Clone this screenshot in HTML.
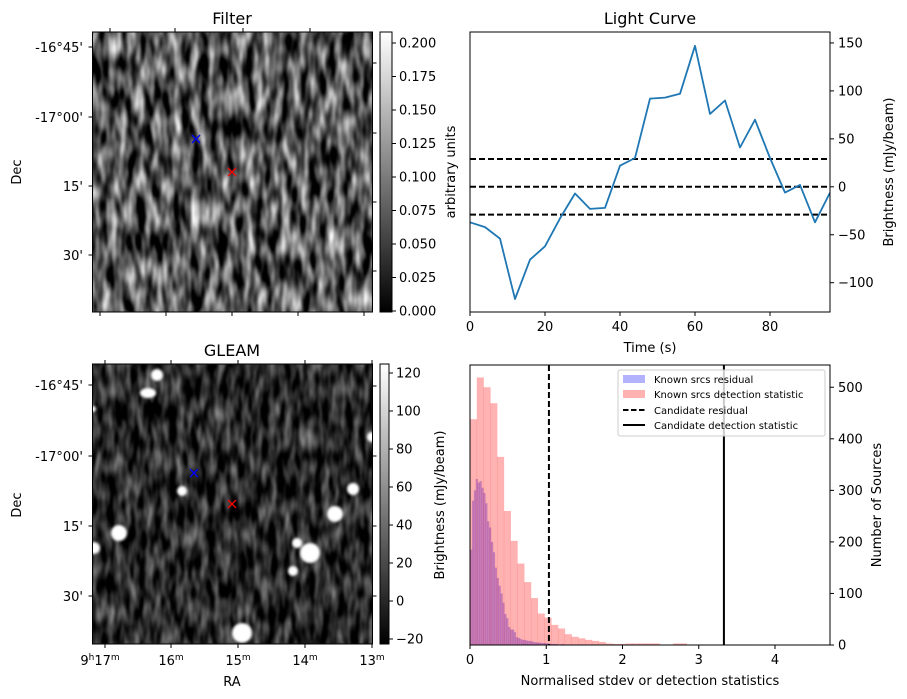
<!DOCTYPE html>
<html><head><meta charset="utf-8"><style>
html,body{margin:0;padding:0;background:#fff;}
svg{display:block;font-family:"DejaVu Sans","Liberation Sans",sans-serif;}
</style></head><body>
<svg id="fig" width="907" height="699" viewBox="0 0 907 699" xmlns="http://www.w3.org/2000/svg">
<defs>
<filter id="noiseF" x="0" y="0" width="100%" height="100%" color-interpolation-filters="sRGB">
<feTurbulence type="fractalNoise" baseFrequency="0.11 0.035" numOctaves="2" seed="3"/>
<feColorMatrix type="matrix" values="1.7 0 0 0 -0.52  1.7 0 0 0 -0.52  1.7 0 0 0 -0.52  0 0 0 0 1"/>
<feGaussianBlur stdDeviation="0.6"/>
</filter>
<filter id="noiseG" x="0" y="0" width="100%" height="100%" color-interpolation-filters="sRGB">
<feTurbulence type="fractalNoise" baseFrequency="0.13 0.04" numOctaves="2" seed="8"/>
<feColorMatrix type="matrix" values="1.0 0 0 0 -0.34  1.0 0 0 0 -0.34  1.0 0 0 0 -0.34  0 0 0 0 1"/>
<feGaussianBlur stdDeviation="0.8"/>
</filter>
<filter id="blur" color-interpolation-filters="sRGB"><feGaussianBlur stdDeviation="1.2"/></filter>
<linearGradient id="cbar" x1="0" y1="1" x2="0" y2="0"><stop offset="0" stop-color="#000"/><stop offset="1" stop-color="#fff"/></linearGradient>
<clipPath id="clipG"><rect x="92.5" y="364" width="280" height="280"/></clipPath>
<clipPath id="clipLC"><rect x="470" y="32" width="360" height="280"/></clipPath>
</defs>

<!-- Filter panel -->
<g>
<text x="232" y="24" font-size="16" text-anchor="middle">Filter</text>
<rect x="92.5" y="32" width="280" height="280" fill="#444"/>
<rect x="92.5" y="32" width="280" height="280" filter="url(#noiseF)"/>
<rect x="92.5" y="32" width="280" height="280" fill="none" stroke="#000" stroke-width="1"/>
<g stroke="#000" stroke-width="1">
<line x1="92.5" y1="47" x2="88.5" y2="47"/><line x1="92.5" y1="117" x2="88.5" y2="117"/><line x1="92.5" y1="186" x2="88.5" y2="186"/><line x1="92.5" y1="255" x2="88.5" y2="255"/>
<line x1="372.5" y1="63" x2="376.5" y2="63"/><line x1="372.5" y1="133" x2="376.5" y2="133"/><line x1="372.5" y1="202" x2="376.5" y2="202"/><line x1="372.5" y1="271" x2="376.5" y2="271"/>
<line x1="110" y1="32" x2="110" y2="28"/><line x1="175" y1="32" x2="175" y2="28"/><line x1="243" y1="32" x2="243" y2="28"/><line x1="310" y1="32" x2="310" y2="28"/>
<line x1="100" y1="312" x2="100" y2="316"/><line x1="166" y1="312" x2="166" y2="316"/><line x1="232" y1="312" x2="232" y2="316"/><line x1="298" y1="312" x2="298" y2="316"/><line x1="364" y1="312" x2="364" y2="316"/>
</g>
<g font-size="13" text-anchor="end">
<text x="83" y="52">-16°45'</text><text x="83" y="122">-17°00'</text><text x="83" y="191">15'</text><text x="83" y="260">30'</text>
</g>
<text x="21" y="172" font-size="13" text-anchor="middle" transform="rotate(-90 21 172)">Dec</text>
<g stroke-width="1.3">
<path d="M192,135 l8,8 M200,135 l-8,8" stroke="#00f"/>
<path d="M228,168 l8,8 M236,168 l-8,8" stroke="#f00"/>
</g>
<rect x="380" y="32" width="12" height="280" fill="url(#cbar)" stroke="#000" stroke-width="1"/>
<g id="cbF" font-size="13"></g>
<text x="455" y="172" font-size="13" text-anchor="middle" transform="rotate(-90 455 172)">arbitrary units</text>
</g>

<!-- GLEAM panel -->
<g>
<text x="232" y="356" font-size="16" text-anchor="middle">GLEAM</text>
<rect x="92.5" y="364" width="280" height="280" fill="#333"/>
<rect x="92.5" y="364" width="280" height="280" filter="url(#noiseG)"/>
<g clip-path="url(#clipG)" fill="#fff" filter="url(#blur)">
<circle cx="157" cy="375" r="6"/><ellipse cx="148" cy="393" rx="8" ry="5"/><circle cx="119" cy="533" r="8"/><circle cx="94" cy="548" r="6"/>
<circle cx="182" cy="491" r="5"/><circle cx="310" cy="553" r="10"/><circle cx="297" cy="543" r="5"/><circle cx="293" cy="571" r="5"/>
<circle cx="335" cy="514" r="8"/><circle cx="353" cy="489" r="6"/><circle cx="242" cy="633" r="10"/><circle cx="372" cy="437" r="5"/><circle cx="93" cy="409" r="3"/>
</g>
<rect x="92.5" y="364" width="280" height="280" fill="none" stroke="#000" stroke-width="1"/>
<g stroke="#000" stroke-width="1">
<line x1="92.5" y1="385" x2="88.5" y2="385"/><line x1="92.5" y1="456" x2="88.5" y2="456"/><line x1="92.5" y1="526" x2="88.5" y2="526"/><line x1="92.5" y1="596" x2="88.5" y2="596"/>
<line x1="372.5" y1="386" x2="376.5" y2="386"/><line x1="372.5" y1="456" x2="376.5" y2="456"/><line x1="372.5" y1="526" x2="376.5" y2="526"/><line x1="372.5" y1="596" x2="376.5" y2="596"/>
<line x1="105" y1="364" x2="105" y2="360"/><line x1="171" y1="364" x2="171" y2="360"/><line x1="238" y1="364" x2="238" y2="360"/><line x1="305" y1="364" x2="305" y2="360"/><line x1="372" y1="364" x2="372" y2="360"/>
<line x1="105" y1="644" x2="105" y2="648"/><line x1="171" y1="644" x2="171" y2="648"/><line x1="238" y1="644" x2="238" y2="648"/><line x1="305" y1="644" x2="305" y2="648"/><line x1="372" y1="644" x2="372" y2="648"/>
</g>
<g font-size="13" text-anchor="end">
<text x="83" y="390">-16°45'</text><text x="83" y="461">-17°00'</text><text x="83" y="531">15'</text><text x="83" y="601">30'</text>
</g>
<text x="21" y="505" font-size="13" text-anchor="middle" transform="rotate(-90 21 505)">Dec</text>
<g font-size="13" text-anchor="middle">
<text x="100" y="665">9<tspan font-size="9" dy="-5">h</tspan><tspan dy="5">17</tspan><tspan font-size="9" dy="-5">m</tspan></text>
<text x="171" y="665">16<tspan font-size="9" dy="-5">m</tspan></text>
<text x="238" y="665">15<tspan font-size="9" dy="-5">m</tspan></text>
<text x="305" y="665">14<tspan font-size="9" dy="-5">m</tspan></text>
<text x="372" y="665">13<tspan font-size="9" dy="-5">m</tspan></text>
</g>
<text x="232" y="686" font-size="13" text-anchor="middle">RA</text>
<g stroke-width="1.3">
<path d="M190,469 l8,8 M198,469 l-8,8" stroke="#00f"/>
<path d="M228,500 l8,8 M236,500 l-8,8" stroke="#f00"/>
</g>
<rect x="380" y="364" width="9" height="280" fill="url(#cbar)" stroke="#000" stroke-width="1"/>
<g id="cbG" font-size="13"></g>
<text x="444" y="505" font-size="13" text-anchor="middle" transform="rotate(-90 444 505)">Brightness (mJy/beam)</text>
</g>

<!-- Light curve -->
<g>
<text x="650" y="24" font-size="16" text-anchor="middle">Light Curve</text>
<g id="lc" clip-path="url(#clipLC)"></g>
<rect x="470" y="32" width="360" height="280" fill="none" stroke="#000" stroke-width="1"/>
<g id="lcAxes" font-size="13"></g>
<text x="650" y="352" font-size="13" text-anchor="middle">Time (s)</text>
<text x="893" y="172" font-size="13" text-anchor="middle" transform="rotate(-90 893 172)">Brightness (mJy/beam)</text>
</g>

<!-- Histogram -->
<g>
<g id="hist"></g>
<rect x="470" y="365" width="360" height="280" fill="none" stroke="#000" stroke-width="1"/>
<g id="histAxes" font-size="13"></g>
<text x="650" y="685" font-size="13" text-anchor="middle">Normalised stdev or detection statistics</text>
<text x="881" y="505" font-size="13" text-anchor="middle" transform="rotate(-90 881 505)">Number of Sources</text>
<g font-size="10">
<rect x="618" y="370" width="207" height="66" rx="2" fill="#fff" fill-opacity="0.8" stroke="#ccc"/>
<rect x="623" y="375" width="22" height="8" fill="#00f" fill-opacity="0.3"/>
<text x="654" y="383">Known srcs residual</text>
<rect x="623" y="390" width="22" height="8" fill="#f00" fill-opacity="0.3"/>
<text x="654" y="398">Known srcs detection statistic</text>
<line x1="623" y1="410" x2="645" y2="410" stroke="#000" stroke-width="2" stroke-dasharray="5.5,2.5"/>
<text x="654" y="414">Candidate residual</text>
<line x1="623" y1="425" x2="645" y2="425" stroke="#000" stroke-width="2"/>
<text x="654" y="429">Candidate detection statistic</text>
</g>
</g>
</svg>
<script>
var NS='http://www.w3.org/2000/svg';
// Light curve data
var lcTimes=[0,4,8,12,16,20,24,28,32,36,40,44,48,52,56,60,64,68,72,76,80,84,88,92,96];
var lcValues=[-37,-42,-54,-117,-76,-62,-33,-7,-23,-22,22,30,92,93,97,147,76,90,41,70,30,-6,2,-37,-6];
var lcThresholds=[29,0,-29];
var lcXTicks=[0,20,40,60,80];
var lcYTicks=[150,100,50,0,-50,-100];
var lcYTickLabels=['150','100','50','0','\u221250','\u2212100'];
// Histogram data
var redBinWidth=0.0888;
var redCounts=[438,519,500,469,365,260,202,158,122,91,61,53,39,32,21,16,13,10,8,6,3,2,2,3,3,3,3,3,0,0,3,3,0,0,0,0,0,0,1,0,1,0,0,0,0,0,0,0,0,0,1];
var blueBinWidth=0.025;
var blueCounts=[185,280,300,322,315,318,305,295,275,240,228,200,180,150,130,115,100,82,60,52,35,30,30,25,15,14,12,10,10,9,8,8,7,6,5,5,5,4,4,4,3,3,2,2,2,2,1,1,2,1,1,1,1,1,1,1,1,1,1,1];
var candidateResidual=1.035;
var candidateDetection=3.33;
var histXTicks=[0,1,2,3,4];
var histYTicks=[0,100,200,300,400,500];
// Colorbar ticks
var filterCbTicks=[0,0.025,0.05,0.075,0.1,0.125,0.15,0.175,0.2];
var gleamCbTicks=[-20,0,20,40,60,80,100,120];
var gleamCbLabels=['\u221220','0','20','40','60','80','100','120'];

function mk(tag,attrs,parent){var e=document.createElementNS(NS,tag);for(var k in attrs)e.setAttribute(k,attrs[k]);parent.appendChild(e);return e;}

function lcX(t){return 470+t*3.75;}
function lcY(v){return 186.8-v*0.959;}
function hX(v){return 470+v*76.25;}
function hY(c){return 645-c*0.5155;}
function fCb(v){return 311-v*(268/0.2);}
function gCb(v){return 639-(v+20)*(266/140);}

var cbF=document.getElementById('cbF');
filterCbTicks.forEach(function(v){
  var y=fCb(v);
  var l=mk('line',{x1:392,y1:y,x2:396,y2:y,stroke:'#000'},cbF);
  
  
  var t=mk('text',{x:399,y:y+4.5},cbF);t.textContent=v.toFixed(3);
  
  
});
var cbG=document.getElementById('cbG');
gleamCbTicks.forEach(function(v,i){
  var y=gCb(v);
  var l=mk('line',{x1:389,y1:y,x2:393,y2:y,stroke:'#000'},cbG);
  
  
  var t=mk('text',{x:396,y:y+4.5},cbG);t.textContent=gleamCbLabels[i];
  
  
});

var lc=document.getElementById('lc');
lcThresholds.forEach(function(v){
  var l=mk('line',{x1:470,x2:830,y1:lcY(v),y2:lcY(v),stroke:'#000','stroke-width':2,'stroke-dasharray':'6,3'},lc);
  
  
});
var d=lcTimes.map(function(t,i){return (i?'L':'M')+lcX(t).toFixed(1)+','+lcY(lcValues[i]).toFixed(1);}).join(' ');
var p=mk('path',{d:d,fill:'none',stroke:'#1f77b4','stroke-width':1.8,'stroke-linejoin':'round'},lc);


var lca=document.getElementById('lcAxes');
lcXTicks.forEach(function(v){
  var x=lcX(v);mk('line',{x1:x,x2:x,y1:312,y2:316,stroke:'#000'},lca);
  var t=mk('text',{x:x,y:331,'text-anchor':'middle'},lca);t.textContent=v;
  
  
});
lcYTicks.forEach(function(v,i){
  var y=lcY(v);mk('line',{x1:830,x2:834,y1:y,y2:y,stroke:'#000'},lca);
  var t=mk('text',{x:838,y:y+4.5},lca);t.textContent=lcYTickLabels[i];
  
  
});

var h=document.getElementById('hist');
blueCounts.forEach(function(c,i){
  if(!c)return;
  var x0=hX(i*blueBinWidth),x1=hX((i+1)*blueBinWidth);
  var r=mk('rect',{x:x0,y:hY(c),width:x1-x0+0.3,height:645-hY(c),fill:'#0000ff','fill-opacity':0.3},h);
  
  
});
redCounts.forEach(function(c,i){
  if(!c)return;
  var x0=hX(i*redBinWidth),x1=hX((i+1)*redBinWidth);
  var r=mk('rect',{x:x0,y:hY(c),width:x1-x0+0.3,height:645-hY(c),fill:'#ff0000','fill-opacity':0.3},h);
  
  
});
var v1=mk('line',{x1:hX(candidateResidual),x2:hX(candidateResidual),y1:365,y2:645,stroke:'#000','stroke-width':2,'stroke-dasharray':'6,3'},h);


var v2=mk('line',{x1:hX(candidateDetection),x2:hX(candidateDetection),y1:365,y2:645,stroke:'#000','stroke-width':2},h);


var ha=document.getElementById('histAxes');
histXTicks.forEach(function(v){
  var x=hX(v);mk('line',{x1:x,x2:x,y1:645,y2:649,stroke:'#000'},ha);
  var t=mk('text',{x:x,y:664,'text-anchor':'middle'},ha);t.textContent=v;
  
  
});
histYTicks.forEach(function(v){
  var y=hY(v);mk('line',{x1:830,x2:834,y1:y,y2:y,stroke:'#000'},ha);
  var t=mk('text',{x:838,y:y+4.5},ha);t.textContent=v;
  
  
});
</script>
</body></html>
